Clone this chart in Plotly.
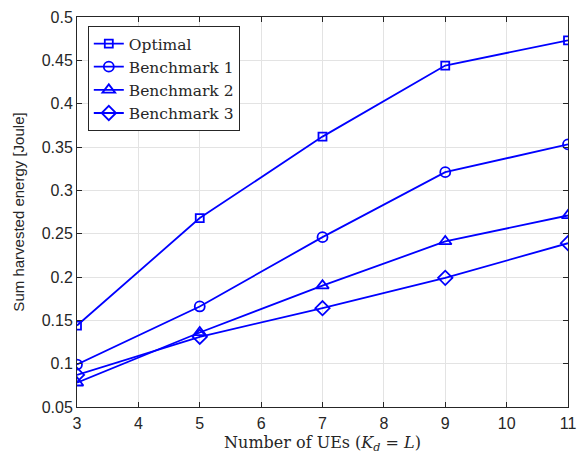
import plotly.graph_objects as go

x_ues = [3, 5, 7, 9, 11]
optimal = [0.144, 0.268, 0.362, 0.444, 0.473]
bench1 = [0.099, 0.166, 0.246, 0.321, 0.353]
bench2 = [0.078, 0.136, 0.190, 0.241, 0.271]
bench3 = [0.087, 0.131, 0.164, 0.199, 0.239]

series = [
    ("Optimal", optimal, "square-open", 8),
    ("Benchmark 1", bench1, "circle-open", 10),
    ("Benchmark 2", bench2, "triangle-up-open", 11),
    ("Benchmark 3", bench3, "diamond-open", 11),
]

fig = go.Figure()
for name, ys, sym, sz in series:
    fig.add_trace(go.Scatter(
        x=x_ues, y=ys, name=name, mode="lines+markers",
        line=dict(color="#0000ff", width=1.8),
        marker=dict(symbol=sym, size=sz, color="#0000ff",
                    line=dict(color="#0000ff", width=1.8)),
    ))

axis_common = dict(
    showgrid=True, gridcolor="#e3e3e3", gridwidth=1,
    showline=True, linecolor="#262626", linewidth=1, mirror="ticks",
    ticks="inside", ticklen=5, tickcolor="#262626",
    tickfont=dict(family="Liberation Sans, Arial", size=16, color="#262626"),
    zeroline=False,
)

fig.update_layout(
    width=585, height=460,
    margin=dict(l=77, r=9, t=15, b=53),
    paper_bgcolor="white", plot_bgcolor="white",
    xaxis=dict(range=[3, 11], dtick=1, tick0=3, ticklabelstandoff=2,
               title=dict(text="Number of UEs (<i>K</i><sub><i>d</i></sub> = <i>L</i>)",
                          font=dict(family="DejaVu Serif", size=16, color="#262626"),
                          standoff=5),
               **axis_common),
    yaxis=dict(range=[0.05, 0.5], dtick=0.05, tick0=0.05,
               title=dict(text="Sum harvested energy [Joule]",
                          font=dict(family="Liberation Sans, Arial", size=15, color="#262626"),
                          standoff=13),
               **axis_common),
    legend=dict(x=0.022, y=0.977, xanchor="left", yanchor="top",
                bgcolor="white", bordercolor="#262626", borderwidth=1,
                font=dict(family="DejaVu Serif", size=15.5, color="#262626"),
                tracegroupgap=0),
    showlegend=True,
)

fig.write_html("out.html", config={"displayModeBar": False},
               post_script="document.body.style.margin='0';document.body.style.padding='0';")
